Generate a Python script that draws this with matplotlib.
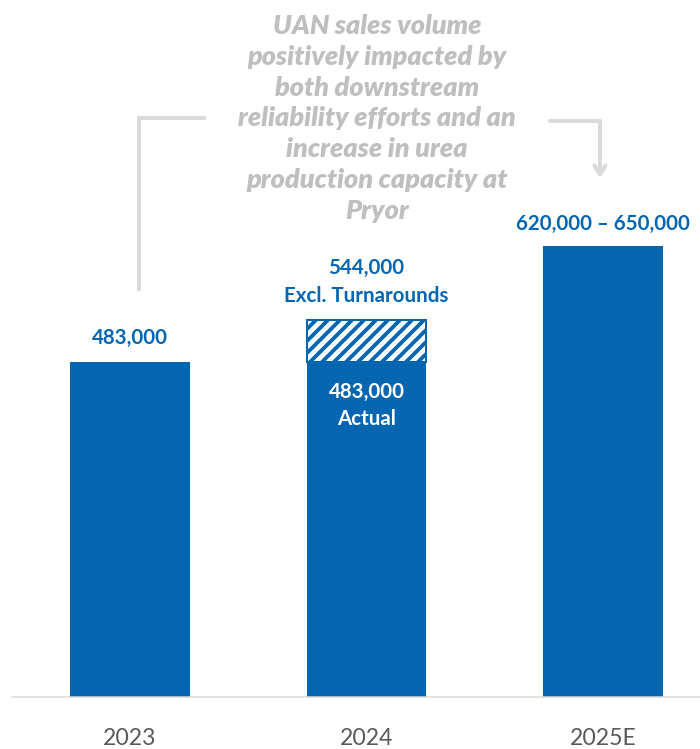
import matplotlib.pyplot as plt

# UAN sales volume (tons)
years = ['2023', '2024', '2025E']
solid_volume = [483000, 483000, 650000]
excl_turnaround_2024 = 544000
forecast_low, forecast_high = 620000, 650000

blue = '#0466B1'
grey_note = '#BFBFBF'
grey_line = '#DADADA'

plt.rcParams['font.family'] = ['Lato', 'DejaVu Sans']
plt.rcParams['hatch.linewidth'] = 3.8

fig = plt.figure(figsize=(700 / 72, 749 / 72), dpi=72)
ax = fig.add_axes([12 / 700, 52 / 749, 688 / 700, 697 / 749])

x = list(range(len(years)))
ax.bar(x, solid_volume, width=0.507, color=blue, zorder=2)

# 2024 excl. turnarounds, hatched part on top of the actual bar
ax.bar(x[1], excl_turnaround_2024 - solid_volume[1], bottom=solid_volume[1],
       width=0.5, facecolor='white', edgecolor=blue, hatch='//', linewidth=2, zorder=2)

ax.set_xlim(-0.499, 2.41)
ax.set_ylim(0, 1005000)
ax.set_yticks([])
for s in ['top', 'right', 'left']:
    ax.spines[s].set_visible(False)
ax.spines['bottom'].set_color('#D9D9D9')
ax.spines['bottom'].set_linewidth(1.5)
ax.set_xticks(x)
ax.set_xticklabels(years, fontsize=23, color='#595959')
ax.tick_params(axis='x', length=0, pad=31)

def label(i, y, dy, text, color=blue):
    ax.annotate(text, xy=(x[i], y), xytext=(0, dy), textcoords='offset points',
                ha='center', va='center', fontsize=20.5, fontweight='bold', color=color)

label(0, solid_volume[0], 24, f'{solid_volume[0]:,}')
label(1, excl_turnaround_2024, 52, f'{excl_turnaround_2024:,}')
label(1, excl_turnaround_2024, 24, 'Excl. Turnarounds')
label(1, solid_volume[1], -30, f'{solid_volume[1]:,}', 'white')
label(1, solid_volume[1], -57, 'Actual', 'white')
label(2, solid_volume[2], 22, f'{forecast_low:,} \u2013 {forecast_high:,}')

note = ('UAN sales volume\npositively impacted by\nboth downstream\n'
        'reliability efforts and an\nincrease in urea\nproduction capacity at\nPryor')
fig.text(377 / 700, 1 - 118.5 / 749, note, ha='center', va='center', fontsize=27,
         fontweight='heavy', style='italic', color=grey_note, linespacing=1.335)

# bracket from 2023 to the 2025E bar
ax.plot([0.038, 0.038, 0.313], [588000, 835000, 835000], color=grey_line, lw=4,
        solid_joinstyle='miter', clip_on=False, zorder=1)
ax.annotate('', xy=(1.987, 745000), xytext=(1.767, 830500),
            arrowprops=dict(arrowstyle='->,head_length=0.9,head_width=0.55',
                            connectionstyle='angle,angleA=0,angleB=90,rad=0',
                            color=grey_line, lw=4), annotation_clip=False)

fig.savefig('out.png', dpi=72)
